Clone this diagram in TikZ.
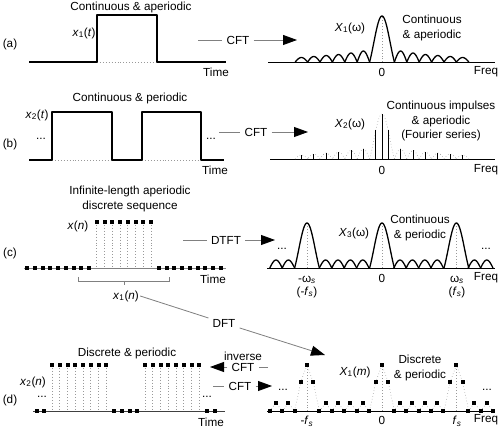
\documentclass[tikz,border=0pt]{standalone}
\usepackage{fontspec}
\setmainfont{Liberation Sans}
\usetikzlibrary{arrows.meta,positioning}

\newcommand{\ssub}[1]{\textsubscript{#1}}
\newcommand{\smpl}[2]{\fill ({#1-2},{#2-2}) rectangle ({#1+2},{#2+2});}

\tikzset{
  wave/.style={line width=1.1pt, line join=round},
  bar/.style={line width=0.8pt},
  axisline/.style={line width=0.7pt},
  guide/.style={gray!80, dotted, line width=0.5pt},
  conn/.style={gray, line width=0.7pt},
  bigtip/.style={-{Triangle[color=black,length=4.2mm,width=3mm]}},
  optext/.style={inner sep=1.2mm},
  lbl/.style={inner sep=1pt, align=center},
}

\begin{document}
\begin{tikzpicture}[x=0.03cm, y=-0.03cm]
\useasboundingbox (0,0) rectangle (500,431);

% ---------- (a) continuous, aperiodic
\node[lbl] (la) at (10,44) {(a)};
\node[lbl] (tita) at (131,7) {Continuous \& aperiodic};
\draw[guide] (97,62) -- (157,62);
\draw[wave] (29,62) -- (97,62) -- (97,15) -- (157,15) -- (157,62) -- (226,62);
\node[lbl] (xa) at (84,33) {\textit{x}\ssub{1}(\textit{t})};
\node[lbl] (tma) at (216,72) {Time};

\coordinate (ca0) at (198,40);
\node[optext] (cfta) at (238,40) {CFT};
\coordinate (ca1) at (297,40);
\draw[conn] (ca0) -- (cfta);
\draw[conn, bigtip] (cfta) -- (ca1);

\draw[axisline] (268,62) -- (495,62);
\draw[guide] (382,62) -- (382,16);
\draw[wave] plot[domain=-1:1, samples=40] ({382+12.4*\x}, {62-46*sin(180*\x)/(pi*\x)});
\foreach \k/\h in {1/11, 2/9, 3/7.5, 4/6.5, 5/5.5, 6/4.5} {
  \draw[wave] plot[domain=0:1, samples=13] ({382+12.4*(\k+\x)}, {62-\h*sin(180*\x)});
  \draw[wave] plot[domain=0:1, samples=13] ({382-12.4*(\k+\x)}, {62-\h*sin(180*\x)});
}
\node[lbl] (Xa) at (350,28) {\textit{X}\ssub{1}(ω)};
\node[lbl] (txa) at (432,28) {Continuous\\\& aperiodic};
\node[lbl] (za) at (382,72) {0};
\node[lbl] (fa) at (486,72) {Freq};

% ---------- (b) continuous, periodic
\node[lbl] (lb) at (10,144) {(b)};
\node[lbl] (titb) at (130,98) {Continuous \& periodic};
\draw[guide] (52,160) -- (112,160);
\draw[guide] (142,160) -- (201,160);
\draw[wave] (29,160) -- (52,160) -- (52,112) -- (112,112) -- (112,160)
  -- (142,160) -- (142,112) -- (201,112) -- (201,160) -- (224,160);
\node[lbl] (xb) at (37,115) {\textit{x}\ssub{2}(\textit{t})};
\node[lbl] (dlb) at (41,139) {...};
\node[lbl] (drb) at (211,139) {...};
\node[lbl] (tmb) at (215,170) {Time};

\coordinate (cb0) at (219,132);
\node[optext] (cftb) at (256,132) {CFT};
\coordinate (cb1) at (308,132);
\draw[conn] (cb0) -- (cftb);
\draw[conn, bigtip] (cftb) -- (cb1);

\draw[axisline] (270,159) -- (495,159);
\draw[guide] plot[domain=-1:1, samples=40] ({382+12.4*\x}, {159-45*sin(180*\x)/(pi*\x)});
\draw[bar] (382,159) -- (382,114);
\draw[bar] (375.8,159) -- (375.8,130.4);
\draw[bar] (388.2,159) -- (388.2,130.4);
\foreach \k/\h in {1/10, 2/8.5, 3/7, 4/6, 5/5, 6/4} {
  \draw[guide] plot[domain=0:1, samples=13] ({382+12.4*(\k+\x)}, {159-\h*sin(180*\x)});
  \draw[guide] plot[domain=0:1, samples=13] ({382-12.4*(\k+\x)}, {159-\h*sin(180*\x)});
  \draw[bar] ({382+12.4*(\k+0.5)},159) -- ++(0,-\h);
  \draw[bar] ({382-12.4*(\k+0.5)},159) -- ++(0,-\h);
}
\node[lbl] (Xb) at (350,124) {\textit{X}\ssub{2}(ω)};
\node[lbl] (txb) at (441,121) {Continuous impulses\\\& aperiodic\\(Fourier series)};
\node[lbl] (zb) at (382,170) {0};
\node[lbl] (fb) at (486,170) {Freq};

% ---------- (c) discrete, aperiodic
\node[lbl] (lc) at (10,253) {(c)};
\node[lbl] (titc) at (130,199) {Infinite-length aperiodic\\discrete sequence};
\draw[gray, line width=0.6pt] (24,268) -- (226,268);
\foreach \k in {9,...,16} {
  \draw[guide] ({27+7.75*\k},222) -- ({27+7.75*\k},268);
  \smpl{27+7.75*\k}{222}
}
\foreach \k in {0,...,8,17,18,...,25} {
  \smpl{27+7.75*\k}{268}
}
\node[lbl] (xc) at (78,226) {\textit{x}(\textit{n})};
\node[lbl] (tmc) at (213,279) {Time};
\draw[gray, line width=0.6pt] (78,277) -- (78,281) -- (169,281) -- (169,277);
\draw[gray, line width=0.6pt] (124,281) -- (124,285);
\node[lbl] (x1n) at (126,296) {\textit{x}\ssub{1}(\textit{n})};

\coordinate (cc0) at (183,240);
\node[optext] (dtft) at (226,240) {DTFT};
\coordinate (cc1) at (275,240);
\draw[conn] (cc0) -- (dtft);
\draw[conn, bigtip] (dtft) -- (cc1);

\draw[axisline] (267,268) -- (495,268);
\foreach \c in {307,382,456.4} {
  \draw[guide] (\c,268) -- (\c,223);
  \draw[wave] plot[domain=-1:1, samples=40] ({\c+12.4*\x}, {268-45*sin(180*\x)/(pi*\x)});
}
\foreach \j in {0,1,4,5,6,7,10,11,12,13,16,17} {
  \draw[wave] plot[domain=0:1, samples=13] ({269.8+12.4*(\j+\x)}, {268-8*sin(180*\x)});
}
\node[lbl] (dlc) at (282,249) {...};
\node[lbl] (drc) at (486,249) {...};
\node[lbl] (Xc) at (354,233) {\textit{X}\ssub{3}(ω)};
\node[lbl] (txc) at (420,228) {Continuous\\\& periodic};
\node[lbl] (wsl) at (307,280) {-ω\ssub{\textit{s}}};
\node[lbl] (fsl) at (307,292) {(-\textit{f}\ssub{\textit{s}})};
\node[lbl] (zc) at (382,278) {0};
\node[lbl] (wsr) at (457,280) {ω\ssub{\textit{s}}};
\node[lbl] (fsr) at (457,292) {(\textit{f}\ssub{\textit{s}})};
\node[lbl] (fc) at (486,278) {Freq};

% DFT from x1(n) to X1(m)
\node[optext] (dft) at (224,323) {DFT};
\coordinate (dft1) at (325,355);
\draw[conn] (x1n.east) -- (dft);
\draw[conn, bigtip] (dft) -- (dft1);

% ---------- (d) discrete, periodic
\node[lbl] (ld) at (10,400) {(d)};
\node[lbl] (titd) at (127,353) {Discrete \& periodic};
\draw[darkgray, line width=0.6pt] (33,411) -- (225,411);
\foreach \k in {0,...,7,12,13,...,19} {
  \draw[guide] ({52+7.75*\k},365) -- ({52+7.75*\k},411);
  \smpl{52+7.75*\k}{365}
}
\foreach \k in {-2,-1,8,9,10,11,20,21} {
  \smpl{52+7.75*\k}{411}
}
\node[lbl] (xd) at (33,382) {\textit{x}\ssub{2}(\textit{n})};
\node[lbl] (dld) at (42,397) {...};
\node[lbl] (drd) at (207,397) {...};
\node[lbl] (tmd) at (211,422) {Time};

\coordinate (ic0) at (210,367);
\node[optext, inner ysep=0.5pt] (icft) at (243,367) {CFT};
\node[lbl, above=0pt of icft] (inv) {inverse};
\coordinate (ic1) at (268,367);
\draw[conn] (ic1) -- (icft);
\draw[conn, bigtip] (icft) -- (ic0);

\coordinate (fc0) at (213,386);
\node[optext] (fcft) at (240,386) {CFT};
\coordinate (fc1) at (272,386);
\draw[conn] (fc0) -- (fcft);
\draw[conn, bigtip] (fcft) -- (fc1);

\draw[axisline] (267,411) -- (495,411);
\foreach \c in {307,382,456.4} {
  \draw[guide] (\c,411) -- (\c,365);
  \draw[guide] (\c-12.4,411) -- (\c-6.2,382) -- (\c,365) -- (\c+6.2,382) -- (\c+12.4,411);
  \smpl{\c}{365}
  \smpl{\c-6.2}{382}
  \smpl{\c+6.2}{382}
}
\foreach \j in {0,1,4,5,6,7,10,11,12,13,16,17} {
  \draw[guide] ({269.8+12.4*\j},411) -- ++(6.2,-8) -- ++(6.2,8);
  \smpl{269.8+12.4*\j+6.2}{403}
}
\foreach \j in {0,1,2,4,5,6,7,8,10,11,12,13,14,16,17,18} {
  \smpl{269.8+12.4*\j}{411}
}
\node[lbl] (dle) at (283,390) {...};
\node[lbl] (dre) at (487,390) {...};
\node[lbl] (Xd) at (355,372) {\textit{X}\ssub{1}(\textit{m})};
\node[lbl] (txd) at (420,368) {Discrete\\\& periodic};
\node[lbl] (fsl2) at (307,421) {-\textit{f}\ssub{\textit{s}}};
\node[lbl] (zd) at (382,420) {0};
\node[lbl] (fsr2) at (457,421) {\textit{f}\ssub{\textit{s}}};
\node[lbl] (fd) at (486,420) {Freq};
\end{tikzpicture}
\end{document}
